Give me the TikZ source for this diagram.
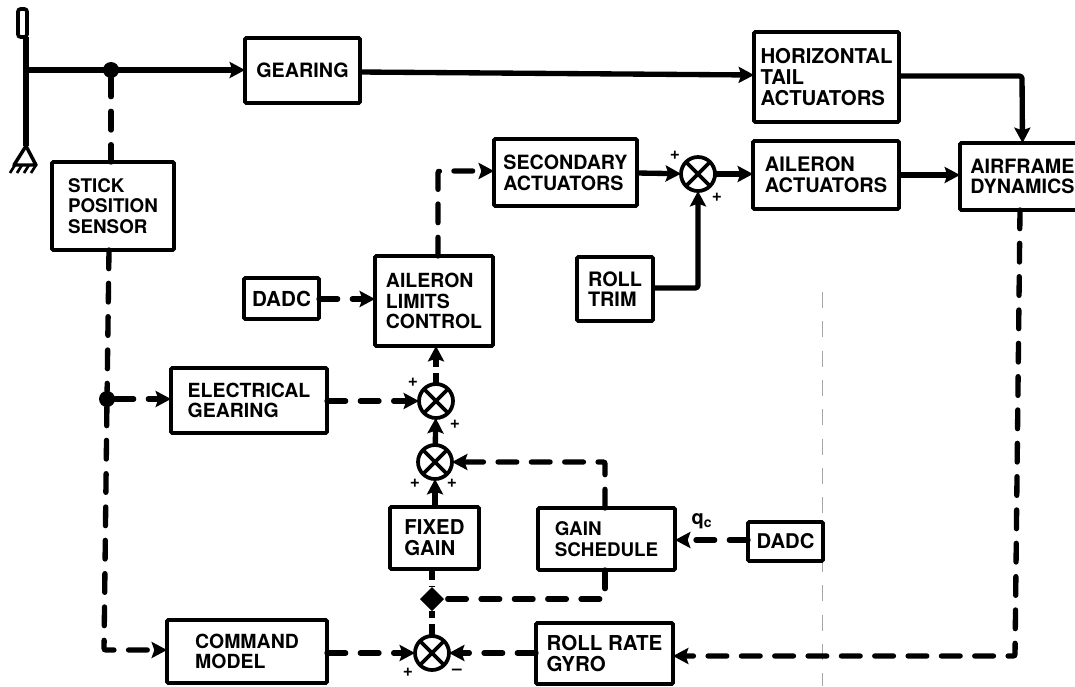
\documentclass[tikz,border=0pt]{standalone}
\usepackage{fontspec}
\setmainfont{TeX Gyre Heros}
\usetikzlibrary{arrows.meta,shapes.geometric,calc}
\tikzset{
  every picture/.style={x=0.75pt,y=-0.75pt},
  block/.style={draw,line width=2.8pt,rounded corners=1pt,align=left,inner sep=0pt,outer sep=0pt},
  summer/.style={draw,circle,line width=2.8pt,minimum size=25.5pt,inner sep=0pt,outer sep=0pt,
    path picture={\draw[line width=2.8pt] (path picture bounding box.north west)--(path picture bounding box.south east)
      (path picture bounding box.north east)--(path picture bounding box.south west);}},
  joint/.style={circle,fill=black,minimum size=12pt,inner sep=0pt,outer sep=0pt},
  jointd/.style={diamond,fill=black,minimum size=18pt,inner sep=0pt,outer sep=0pt},
  solidline/.style={line width=4pt,line join=round},
  dashline/.style={line width=4pt,line cap=round,dash pattern=on 14pt off 11pt,rounded corners=1.5pt},
  stubline/.style={line width=4pt,dash pattern=on 8pt off 5pt on 30pt off 0pt},
  tip/.style={-{Stealth[length=11.5pt,width=12pt,inset=2pt]}},
  sign/.style={font=\fontsize{13}{13}\selectfont\bfseries,inner sep=0pt}
}
\newcommand{\blk}[7]{%
  \pgfmathsetmacro{\bw}{(#4-#2)*0.75}\pgfmathsetmacro{\bh}{(#5-#3)*0.75}%
  \node[block,minimum width=\bw pt,minimum height=\bh pt,font=\fontsize{#6}{15.5}\selectfont\bfseries] (#1) at ({(#2+#4)/2},{(#3+#5)/2}) {#7};}
\begin{document}
\begin{tikzpicture}
\useasboundingbox (0,0) rectangle (1075,686);
\fill[white] (0,0) rectangle (1075,686);
% scan mark
\draw[gray!70,line width=0.5pt,dash pattern=on 12pt off 10pt] (822,292) -- (822,686);
% blocks
\blk{stick}{52}{162}{174}{250}{14.1}{STICK\\POSITION\\SENSOR}
\blk{gearing}{245}{38}{360}{103}{14.8}{GEARING}
\blk{horiz}{754}{32}{899}{122}{15.3}{HORIZONTAL\\TAIL\\ACTUATORS}
\blk{ailact}{753}{141}{899}{209}{15}{AILERON\\ACTUATORS\hspace{6pt}}
\blk{airframe}{960}{143}{1085}{210}{14.8}{AIRFRAME\\DYNAMICS}
\blk{second}{494}{139}{637}{206}{14.75}{SECONDARY\\ACTUATORS}
\blk{trim}{577}{257}{653}{321}{14.9}{ROLL\\TRIM}
\blk{limits}{375}{256}{493}{346}{14.6}{AILERON\\LIMITS\\CONTROL\hspace{5pt}}
\blk{dadca}{244}{278}{319}{319}{15.5}{DADC}
\blk{elec}{171}{368}{327}{433}{14.6}{ELECTRICAL\\GEARING}
\blk{fixed}{390}{507}{479}{569}{15.3}{FIXED\\GAIN}
\blk{sched}{538}{508}{675}{570}{14.1}{GAIN\\SCHEDULE}
\blk{dadcb}{748}{522}{823}{561}{15.2}{DADC}
\blk{cmd}{167}{620}{327}{683}{14.6}{COMMAND\\MODEL}
\blk{gyro}{536}{623}{673}{684}{15.4}{ROLL RATE\\GYRO}
% summers
\node[summer] (s0) at (698,174) {};
\node[summer] (s1) at (436,401) {};
\node[summer] (s2) at (435,462) {};
\node[summer] (s3) at (432,653) {};
% joints and free ends
\node[joint] (j1) at (111,70) {};
\node[joint] (j2) at (107,399) {};
\node[jointd] (j3) at (432,599) {};
\coordinate (pivot) at (26,146);
\coordinate (grip) at (26,37);
\coordinate (stickline) at (26,70);
% stick and ground
\draw[line width=2.8pt,rounded corners=2pt] (18,9) rectangle (27,37);
\draw[solidline] (grip) -- (pivot);
\draw[line width=2.6pt,line join=round] (pivot) -- (14,165) -- (36,165) -- cycle;
\draw[line width=2pt] (15,165) -- (10,173) (22,165) -- (17,173) (29,165) -- (24,173) (36,165) -- (31,173);
% solid connectors
\draw[solidline,tip] (stickline) -- (gearing.west |- stickline);
\draw[solidline,tip] (gearing.east |- 0,72) -- (horiz.west |- 0,75);
\draw[solidline,tip,rounded corners=2pt] (horiz.east |- 0,76) -- (1022,76) -- (airframe.north);
\draw[solidline,tip] (second.east |- 0,173) -- (s0);
\draw[solidline,tip] (s0) -- (ailact.west |- s0);
\draw[solidline,tip] (ailact.east |- 0,175) -- (airframe.west |- 0,175);
\draw[solidline,tip,rounded corners=2pt] (trim.east |- 0,288) -- (s0 |- 0,288) -- (s0);
\draw[stubline,tip] (s1) -- (s1 |- limits.south);
\draw[solidline,tip] (s2) -- (s1);
\draw[solidline,tip] (s2 |- fixed.north) -- (s2);
% dashed connectors
\draw[dashline] (j1) -- (j1 |- stick.north);
\draw[dashline] (109,250) -- (j2);
\draw[dashline,tip] (j2) -- (104,650) -- (cmd.west |- 0,650);
\draw[dashline,tip] (j2) -- (elec.west |- j2);
\draw[dashline,tip] (elec.east |- s1) -- (s1);
\draw[dashline,tip] (dadca.east |- 0,299) -- (limits.west |- 0,299);
\draw[dashline,tip] (438,256) -- (438,171) -- (second.west |- 0,171);
\draw[dashline,tip] (605,508) -- (605,462) -- (s2);
\draw[dashline] (605,570) -- (605,599) -- (j3);
\draw[dashline,tip] (dadcb.west |- 0,540) -- (sched.east |- 0,540);
\draw[line width=4pt,dash pattern=on 8pt off 5pt on 30pt off 0pt] (j3 |- fixed.south) -- (j3);
\draw[line width=4pt,dash pattern=on 5pt off 5pt on 30pt off 0pt] (j3) -- (s3);
\draw[dashline,tip] (cmd.east |- s3) -- (s3);
\draw[dashline,tip] (gyro.west |- s3) -- (s3);
\draw[dashline,tip] (1020,210) -- (1015,656) -- (gyro.east |- 0,656);
% signs
\node[sign] (p0a) at (675,155) {+};
\node[sign] (p0b) at (717,197) {+};
\node[sign] (p1a) at (413,382) {+};
\node[sign] (p1b) at (455,424) {+};
\node[sign] (p2a) at (415,483) {+};
\node[sign] (p2b) at (452,483) {+};
\node[sign] (p3a) at (408,672) {+};
\node[sign] (p3b) at (457,672) {--};
\node[font=\fontsize{15}{15}\selectfont\bfseries,inner sep=0pt] (qc) at (702,521) {q\textsubscript{c}};
\end{tikzpicture}
\end{document}
